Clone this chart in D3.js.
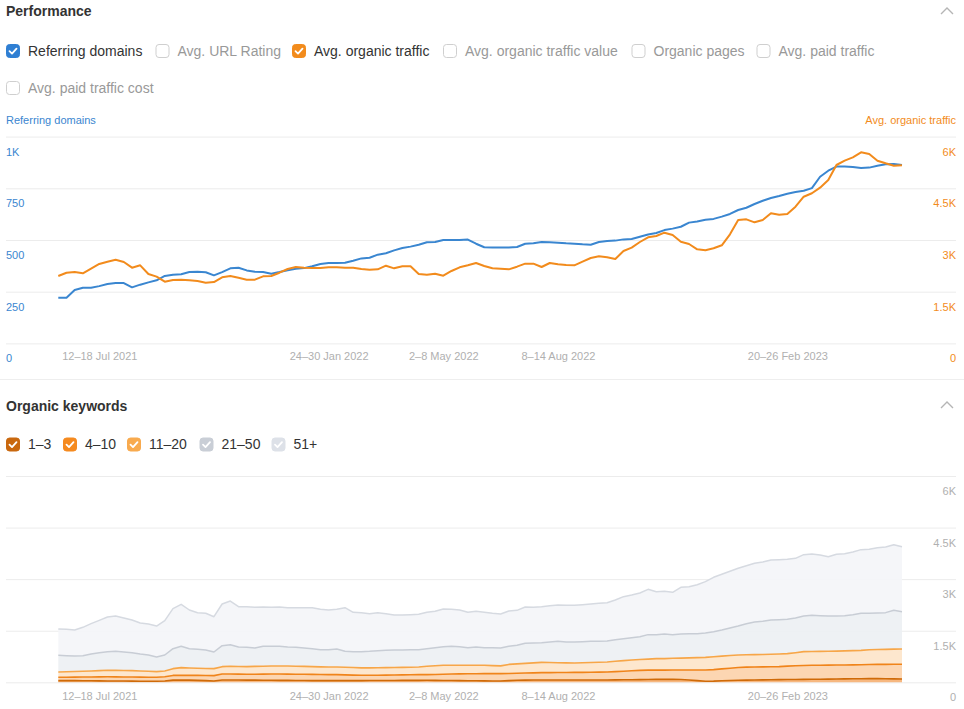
<!DOCTYPE html>
<html>
<head>
<meta charset="utf-8">
<script src="https://cdn.jsdelivr.net/npm/d3@7"></script>
<style>
  html, body { margin: 0; padding: 0; background: #fff; }
  svg { display: block; font-family: "Liberation Sans", Arial, "Helvetica Neue", sans-serif; }
</style>
</head>
<body>
<svg id="chart" width="964" height="709"></svg>
<script>
// ---------------- DATA ----------------
const startWeek = "2021-06-07";   // first weekly point (a Monday)
const weekCount = 104;

const performanceOptions = [
  { label: "Referring domains", checked: true, color: "#2f7fd3" },
  { label: "Avg. URL Rating", checked: false },
  { label: "Avg. organic traffic", checked: true, color: "#f28b1c" },
  { label: "Avg. organic traffic value", checked: false },
  { label: "Organic pages", checked: false },
  { label: "Avg. paid traffic", checked: false },
  { label: "Avg. paid traffic cost", checked: false }
];

const xTickDates = ["2021-07-12", "2022-01-24", "2022-05-02", "2022-08-08", "2023-02-20"];
const xTickLabels = ["12–18 Jul 2021", "24–30 Jan 2022", "2–8 May 2022", "8–14 Aug 2022", "20–26 Feb 2023"];

const leftTicks = [0, 250, 500, 750, 1000];
const leftTickLabels = ["0", "250", "500", "750", "1K"];
const rightTicks = [0, 1500, 3000, 4500, 6000];
const rightTickLabels = ["0", "1.5K", "3K", "4.5K", "6K"];

const referringDomains = [
  221,221,258,269,269,277,287,292,292,271,284,295,305,326,332,334,345,347,344,329,345,363,366,353,347,345,337,345,354,361,364,373,384,389,389,
  390,400,411,414,429,436,450,461,468,477,489,490,500,500,500,502,482,465,464,464,464,466,482,484,490,489,487,484,482,479,477,490,495,497,503,
  505,516,527,534,548,555,564,584,589,598,602,613,626,645,656,674,690,703,713,724,732,738,751,806,835,855,856,853,848,850,859,866,867,863
];

const avgOrganicTraffic = [
  1955,2051,2071,2033,2168,2304,2371,2429,2362,2197,2265,2013,1936,1790,1839,1849,1830,1810,1761,1780,1917,1955,1907,1849,1849,1946,1955,2051,2158,2216,2197,2187,2187,2207,2207,
  2197,2197,2158,2139,2149,2255,2178,2236,2236,2013,1994,2023,1965,2101,2207,2265,2333,2246,2178,2168,2149,2226,2313,2313,2216,2333,2294,2275,2265,2371,2478,2526,2497,2449,2680,
  2777,2942,3078,3116,3212,3145,2951,2884,2730,2701,2759,2846,3165,3580,3600,3513,3580,3774,3735,3754,3966,4256,4355,4518,4741,5176,5301,5399,5544,5495,5301,5225,5156,5167
];

const keywordGroups = ["1–3", "4–10", "11–20", "21–50", "51+"];
const bottomTicks = [0, 1500, 3000, 4500, 6000];
const bottomTickLabels = ["0", "1.5K", "3K", "4.5K", "6K"];

const kw1to3 = [
  48,48,48,46,44,42,40,38,36,34,32,30,29,40,62,68,62,55,48,40,65,68,66,64,62,60,58,56,55,54,52,50,49,48,
  48,48,49,50,51,52,53,54,55,56,57,58,56,54,52,50,47,44,42,40,39,50,58,64,68,68,68,68,68,68,68,68,68,68,70,73,76,79,82,84,
  85,87,80,68,50,32,35,45,52,58,62,66,70,74,78,80,82,85,87,90,93,96,99,102,104,106,106,104,100,97
];
const kw4to10 = [
  97,99,102,106,111,116,120,120,119,118,118,117,116,120,138,136,140,145,150,155,175,174,172,171,173,178,182,184,183,181,180,180,177,174,
  174,167,159,153,152,153,155,158,161,164,165,164,172,181,188,195,201,206,209,211,212,208,206,206,207,212,214,216,218,220,222,226,229,232,240,249,259,269,273,274,
  270,271,278,290,308,326,335,345,358,372,378,379,380,379,378,390,398,405,409,408,407,406,405,406,408,410,414,418,423,426
];
const kw11to20 = [
  155,160,163,168,175,181,189,188,188,187,180,173,165,170,197,222,215,210,205,202,215,223,222,220,227,230,235,235,237,233,230,225,224,224,
  222,222,222,217,217,219,220,219,218,216,223,243,252,259,254,249,246,244,243,234,226,262,271,280,290,300,294,286,279,274,280,284,288,291,300,308,315,317,320,330,
  333,340,345,352,360,368,375,372,368,365,360,360,360,361,367,363,380,401,399,401,403,406,409,412,416,430,432,436,441,446
];
const kw21to50 = [
  484,467,452,454,493,523,542,555,538,523,493,474,426,464,581,620,561,549,536,484,610,629,567,562,536,578,571,571,552,549,536,523,499,503,
  525,464,461,471,481,496,502,508,505,513,504,513,527,542,552,542,513,533,513,522,521,526,540,583,578,573,596,621,607,610,612,613,606,610,630,639,648,662,711,698,
  717,687,702,705,697,708,728,759,802,842,905,949,964,998,999,998,1010,1037,1053,1039,1025,1020,1025,1047,1078,1060,1064,1068,1129,1085
];
const kw51plus = [
  766,766,756,825,883,940,1008,1027,989,950,902,902,901,999,1164,1222,1125,1065,1068,1027,1212,1270,1173,1183,1182,1144,1134,1144,1144,1154,1173,1193,1174,1154,
  1153,1269,1144,1133,1095,1104,1066,1019,1019,1018,1028,1057,1057,1096,1076,1067,1028,1037,1028,1000,988,1028,1018,1057,1037,1047,1057,1057,1067,1067,1076,1086,1106,1115,1154,1222,1241,1270,1318,1250,
  1241,1232,1358,1366,1424,1493,1580,1620,1648,1678,1687,1707,1725,1746,1745,1746,1736,1784,1784,1765,1726,1794,1803,1823,1852,1861,1900,1909,1910,1891
];

// ---------------- STYLES ----------------
const BLUE = "#3a86d0", ORANGE = "#f28b1c";
const kwLine = ["#cf6a08", "#f0841a", "#f7a648", "#c8cdd5", "#d6dae1"];
const kwFill = ["#f6b072", "#fcd2aa", "#fde4c9", "#eceff3", "#f4f5f8"];
const kwBox  = ["#c9680e", "#f58a1f", "#f8aa4e", "#c9ced6", "#dde1e8"];

const parse = d3.utcParse("%Y-%m-%d");
// weekly category axis: one Monday per week starting at startWeek
const start = parse(startWeek);
const dates = d3.utcMonday.range(start, d3.utcMonday.offset(start, weekCount));

const svg = d3.select("#chart");
const W = 964;

// ---------- helpers ----------
function checkbox(g, x, y, checked, color) {
  const b = g.append("g").attr("transform", `translate(${x},${y})`);
  b.append("rect").attr("width", 13).attr("height", 13).attr("rx", 3)
    .attr("x", 0.5).attr("y", 0.5)
    .attr("fill", checked ? color : "#fff")
    .attr("stroke", checked ? color : "#cfcfcf").attr("stroke-width", 1);
  if (checked) {
    b.append("path").attr("d", "M3.5,7.2 L6,9.6 L10.5,4.6")
      .attr("fill", "none").attr("stroke", "#fff").attr("stroke-width", 1.8)
      .attr("stroke-linecap", "round").attr("stroke-linejoin", "round");
  }
}
function caret(x, y) {
  svg.append("path").attr("d", `M${x-6},${y+3} L${x},${y-3} L${x+6},${y+3}`)
    .attr("fill", "none").attr("stroke", "#b5b5b5").attr("stroke-width", 1.4);
}

// ---------- Performance header ----------
svg.append("text").attr("x", 6).attr("y", 16).attr("font-size", 14).attr("font-weight", "bold")
  .attr("fill", "#333").text("Performance");
caret(947, 11);

const optPos = [[6, 44], [155.5, 44], [292, 44], [443, 44], [631.5, 44], [756.5, 44], [6, 81]];
const optG = svg.append("g");
performanceOptions.forEach((o, i) => {
  const [x, y] = optPos[i];
  checkbox(optG, x, y, o.checked, o.color);
  optG.append("text").attr("x", x + 22).attr("y", y + 11.5).attr("font-size", 14)
    .attr("fill", o.checked ? "#333" : "#999").text(o.label);
});

// ---------- Top chart ----------
const x = d3.scaleUtc().domain([dates[0], dates[dates.length - 1]]).range([58.3, 902]);
const yL = d3.scaleLinear().domain([0, 1000]).range([343.4, 136.6]);
const yR = d3.scaleLinear().domain([0, 6000]).range([343.4, 136.6]);

svg.append("text").attr("x", 6).attr("y", 124).attr("font-size", 11).attr("fill", BLUE).text("Referring domains");
svg.append("text").attr("x", 956).attr("y", 124).attr("font-size", 11).attr("fill", ORANGE)
  .attr("text-anchor", "end").text("Avg. organic traffic");

// grid
const gridTop = svg.append("g").attr("transform", "translate(956,0)")
  .call(d3.axisLeft(yL).tickValues(leftTicks).tickSize(950).tickFormat(""));
gridTop.select(".domain").remove();
gridTop.selectAll("line").attr("stroke", "#ececec");

// left labels
const axL = svg.append("g").attr("transform", "translate(6,15)")
  .call(d3.axisRight(yL).tickValues(leftTicks).tickSize(0).tickPadding(0)
    .tickFormat((d, i) => leftTickLabels[i]));
axL.select(".domain").remove();
axL.selectAll("text").attr("font-size", 11).attr("fill", BLUE).attr("font-family", null);

// right labels
const axR = svg.append("g").attr("transform", "translate(956,15)")
  .call(d3.axisLeft(yR).tickValues(rightTicks).tickSize(0).tickPadding(0)
    .tickFormat((d, i) => rightTickLabels[i]));
axR.select(".domain").remove();
axR.selectAll("text").attr("font-size", 11).attr("fill", ORANGE).attr("font-family", null);

// x labels
const tickDates = xTickDates.map(parse);
function xAxisAt(yPos) {
  const ax = svg.append("g").attr("transform", `translate(0,${yPos})`)
    .call(d3.axisBottom(x).tickValues(tickDates).tickSize(0).tickPadding(0)
      .tickFormat((d, i) => xTickLabels[i]));
  ax.select(".domain").remove();
  ax.selectAll("text").attr("font-size", 11).attr("fill", "#b0b0b0").attr("font-family", null);
}
xAxisAt(352);

const lineL = d3.line().x((d, i) => x(dates[i])).y(d => yL(d));
const lineR = d3.line().x((d, i) => x(dates[i])).y(d => yR(d));
svg.append("path").datum(referringDomains).attr("d", lineL)
  .attr("fill", "none").attr("stroke", BLUE).attr("stroke-width", 2).attr("stroke-linejoin", "round");
svg.append("path").datum(avgOrganicTraffic).attr("d", lineR)
  .attr("fill", "none").attr("stroke", ORANGE).attr("stroke-width", 2).attr("stroke-linejoin", "round");

// ---------- Organic keywords ----------
svg.append("line").attr("x1", 0).attr("x2", W).attr("y1", 379.5).attr("y2", 379.5).attr("stroke", "#eeeeee");
svg.append("text").attr("x", 6).attr("y", 411).attr("font-size", 14).attr("font-weight", "bold")
  .attr("fill", "#333").text("Organic keywords");
caret(947, 405);

const legPos = [6, 63, 127, 199.5, 271.5];
const legG = svg.append("g");
keywordGroups.forEach((k, i) => {
  checkbox(legG, legPos[i], 437.5, true, kwBox[i]);
  legG.append("text").attr("x", legPos[i] + 22).attr("y", 449).attr("font-size", 14)
    .attr("fill", "#333").text(k);
});

const yB = d3.scaleLinear().domain([0, 6000]).range([682.3, 476]);

const gridB = svg.append("g").attr("transform", "translate(956,0)")
  .call(d3.axisLeft(yB).tickValues(bottomTicks).tickSize(950).tickFormat(""));
gridB.select(".domain").remove();
gridB.selectAll("line").attr("stroke", "#ececec");

const rows = dates.map((d, i) => ({
  date: d, "1–3": kw1to3[i], "4–10": kw4to10[i], "11–20": kw11to20[i], "21–50": kw21to50[i], "51+": kw51plus[i]
}));
const stacked = d3.stack().keys(keywordGroups)(rows);

const area = d3.area().x(d => x(d.data.date)).y0(d => yB(d[0])).y1(d => yB(d[1]));
const topLine = d3.line().x(d => x(d.data.date)).y(d => yB(d[1]));

const gB = svg.append("g");
stacked.slice().reverse().forEach(s => {
  const i = keywordGroups.indexOf(s.key);
  gB.append("path").datum(s).attr("d", area).attr("fill", kwFill[i]).attr("fill-opacity", 0.9);
});
stacked.slice().reverse().forEach(s => {
  const i = keywordGroups.indexOf(s.key);
  gB.append("path").datum(s).attr("d", topLine).attr("fill", "none")
    .attr("stroke", kwLine[i]).attr("stroke-width", i < 3 ? 1.6 : 1.5).attr("stroke-linejoin", "round");
});

const axB = svg.append("g").attr("transform", "translate(956,15)")
  .call(d3.axisLeft(yB).tickValues(bottomTicks).tickSize(0).tickPadding(0)
    .tickFormat((d, i) => bottomTickLabels[i]));
axB.select(".domain").remove();
axB.selectAll("text").attr("font-size", 11).attr("fill", "#b0b0b0").attr("font-family", null);

xAxisAt(692);
</script>
</body>
</html>
